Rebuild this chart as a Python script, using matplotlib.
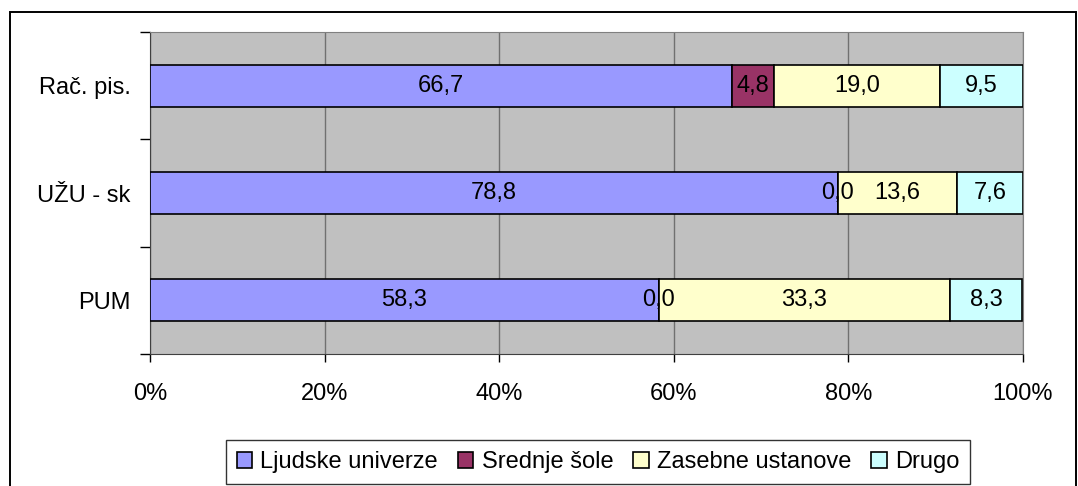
import matplotlib
matplotlib.use("Agg")
import matplotlib.pyplot as plt
from matplotlib.patches import Rectangle, Patch

plt.rcParams['font.family'] = ['Liberation Sans', 'DejaVu Sans']

categories = ["PUM", "UŽU - sk", "Rač. pis."]
series_names = ["Ljudske univerze", "Srednje šole", "Zasebne ustanove", "Drugo"]
ljudske = [58.3, 78.8, 66.7]
srednje = [0.0, 0.0, 4.8]
zasebne = [33.3, 13.6, 19.0]
drugo = [8.3, 7.6, 9.5]
colors = ["#9999FF", "#993366", "#FFFFCC", "#CCFFFF"]
xtick_labels = ["0%", "20%", "40%", "60%", "80%", "100%"]

W, H = 1078, 486
FS = 17
fig = plt.figure(figsize=(W / 100, H / 100), dpi=100)

# outer chart border
fig.patches.append(Rectangle((10 / W, -0.05), (1076 - 10) / W, (H - 12) / H + 0.05,
                             transform=fig.transFigure, fill=False,
                             edgecolor="black", linewidth=1.4))

ax = fig.add_axes([150 / W, (H - 354) / H, (1023 - 150) / W, (354 - 32) / H])
ax.set_facecolor("#C0C0C0")

series = [ljudske, srednje, zasebne, drugo]
ypos = list(range(len(categories)))
left = [0.0] * len(categories)
for vals, col in zip(series, colors):
    ax.barh(ypos, vals, left=left, height=0.39, color=col, edgecolor="black",
            linewidth=1.2, zorder=3)
    for y, v, l in zip(ypos, vals, left):
        ax.text(l + v / 2, y, f"{v:.1f}".replace(".", ","), ha="center", va="center",
                fontsize=FS, zorder=4)
    left = [l + v for l, v in zip(left, vals)]

ax.set_xlim(0, 100)
ax.set_ylim(-0.5, len(categories) - 0.5)
ax.set_xticks([0, 20, 40, 60, 80, 100])
ax.set_xticklabels(xtick_labels, fontsize=FS)
ax.xaxis.grid(True, color="#707070", linewidth=1.0, zorder=1)
ax.set_axisbelow(True)

ax.set_yticks([-0.5, 0.5, 1.5, 2.5])
ax.set_yticklabels([])
ax.set_yticks(ypos, minor=True)
ax.set_yticklabels(categories, minor=True, fontsize=FS)
ax.tick_params(axis="y", which="minor", length=0, pad=14)
ax.tick_params(axis="y", which="major", length=7, color="black", width=1)
ax.tick_params(axis="x", length=6, color="black", width=1, pad=15)

for s in ["top", "right"]:
    ax.spines[s].set_color("#808080")
for s in ["left", "bottom"]:
    ax.spines[s].set_color("#404040")

handles = [Patch(facecolor=c, edgecolor="black", linewidth=1.2) for c in colors]
leg = fig.legend(handles, series_names, loc="center", ncol=4,
                 bbox_to_anchor=(598 / W, (H - 462) / H), fontsize=FS,
                 frameon=True, fancybox=False, edgecolor="black",
                 handlelength=0.65, handleheight=0.65, handletextpad=0.35,
                 columnspacing=0.85, borderpad=0.45, borderaxespad=0)
leg.get_frame().set_linewidth(1.0)

fig.savefig("out.png", dpi=100)
